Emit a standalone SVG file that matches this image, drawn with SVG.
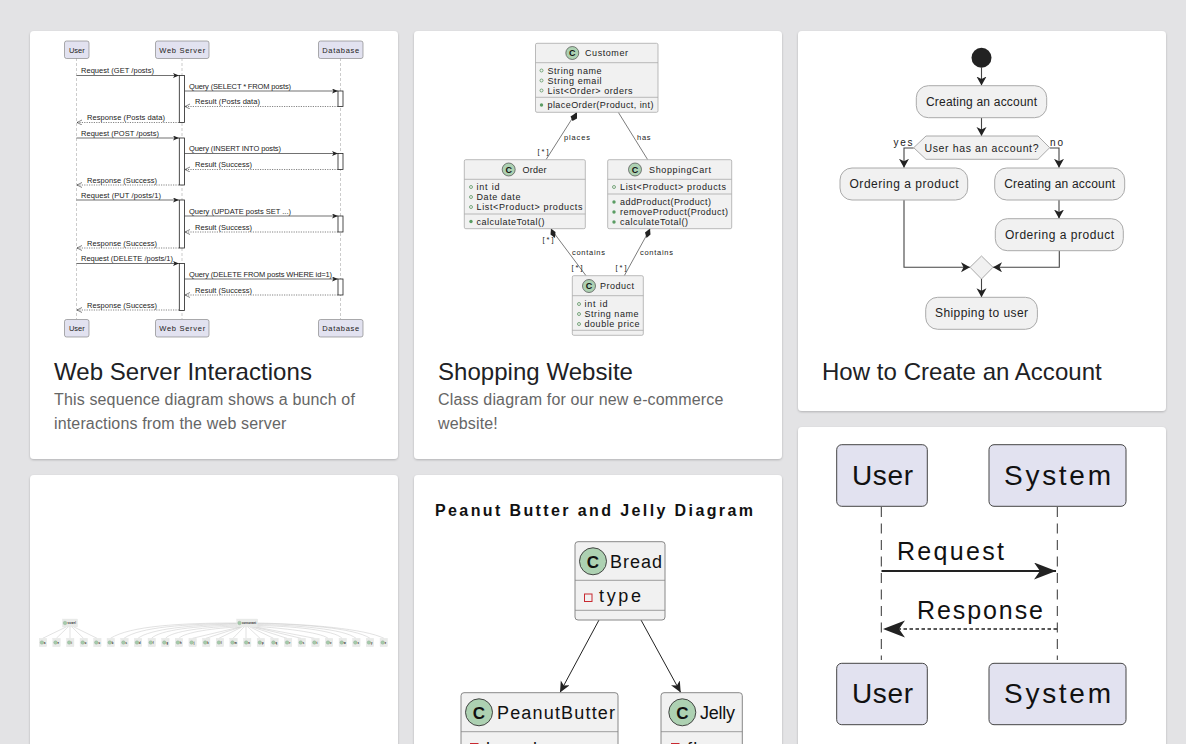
<svg xmlns="http://www.w3.org/2000/svg" width="1186" height="744" viewBox="0 0 1186 744">
<style>
text{font-family:"Liberation Sans",Arial,sans-serif;fill:#111}
.card{fill:#fff;filter:url(#sh)}
.ct{font-size:24px;fill:#202124;letter-spacing:.04px}
.cb{font-size:16px;fill:#666;letter-spacing:.15px}
.part{fill:#e2e2f0;stroke:#777;stroke-width:.6}
.life{stroke:#aaa;stroke-width:.6;stroke-dasharray:3 2;fill:none}
.act{fill:#fff;stroke:#222;stroke-width:.8}
.m{font-size:7.500px;fill:#222}
.sol{stroke:#333;stroke-width:.7;fill:none;marker-end:url(#sa)}
.das{stroke:#333;stroke-width:.6;stroke-dasharray:1.2 1.2;fill:none;marker-end:url(#oa)}
.cls{fill:#f1f1f1;stroke:#aaa;stroke-width:.8}
.sep{stroke:#aaa;stroke-width:.8;fill:none}
.cc{fill:#add1b2;stroke:#333;stroke-width:.6}
.ctext{font-size:9px;font-weight:bold;text-anchor:middle;fill:#111}
.n{font-size:9px;fill:#222}
.r{font-size:9px;fill:#222}
.l{font-size:7.500px;fill:#222}
.pub{fill:none;stroke:#478a4f;stroke-width:.7}
.pubm{fill:#5a9c63}
.edge{stroke:#444;stroke-width:.7;fill:none}
.ab{fill:#f1f1f1;stroke:#aaa;stroke-width:1}
.at{font-size:12px;text-anchor:middle;fill:#222}
.ae{stroke:#444;stroke-width:1.100;fill:none;marker-end:url(#aa)}
.tn{fill:#e9ebe9;stroke:#e2e2e2;stroke-width:.3}
.tc{fill:#a6cbac;stroke:#7a9a7f;stroke-width:.3}
.tt{font-size:2.600px;fill:#222;font-weight:bold}
.te{stroke:#cfcfcf;stroke-width:.6;fill:none}
.big{fill:#f1f1f1;stroke:#888;stroke-width:1}
.bs{stroke:#888;stroke-width:.8;fill:none}
.bc{fill:#add1b2;stroke:#333;stroke-width:.9}
.bl{font-size:18px;fill:#111}
.bp{fill:#e2e2f0;stroke:#444;stroke-width:1}
.bt{font-size:28px;fill:#111}
.bm{font-size:25px;fill:#111}
</style>
<defs>
<filter id="sh" x="-5%" y="-5%" width="110%" height="110%"><feDropShadow dx="0" dy="1" stdDeviation="1.2" flood-color="#000" flood-opacity=".22"/></filter>
<marker id="sa" markerUnits="userSpaceOnUse" markerWidth="8" markerHeight="6" refX="6" refY="2.500" orient="auto"><path d="M0 0L6 2.500L0 5L1.500 2.500Z" fill="#222"/></marker>
<marker id="oa" markerUnits="userSpaceOnUse" markerWidth="8" markerHeight="6" refX="5" refY="2.500" orient="auto"><path d="M0 0L5 2.500L0 5" fill="none" stroke="#333" stroke-width=".6"/></marker>
<marker id="aa" markerUnits="userSpaceOnUse" markerWidth="12" markerHeight="12" refX="9" refY="5" orient="auto"><path d="M0 0L9 5L0 10L2.500 5Z" fill="#222"/></marker>
<marker id="pa" markerUnits="userSpaceOnUse" markerWidth="14" markerHeight="12" refX="11" refY="5" orient="auto"><path d="M0 0L11 5L0 10L3 5Z" fill="#222"/></marker>
<marker id="ba" markerUnits="userSpaceOnUse" markerWidth="24" markerHeight="20" refX="22" refY="8.500" orient="auto"><path d="M0 0L22 8.500L0 17L6 8.500Z" fill="#222"/></marker>
</defs>
<rect width="1186" height="744" fill="#e3e3e5"/>
<g id="cards">
<rect class="card" x="30" y="31" width="368" height="428" rx="4"/>
<rect class="card" x="414" y="31" width="368" height="428" rx="4"/>
<rect class="card" x="798" y="31" width="368" height="380" rx="4"/>
<rect class="card" x="798" y="427" width="368" height="340" rx="4"/>
<rect class="card" x="30" y="475" width="368" height="300" rx="4"/>
<rect class="card" x="414" y="475" width="368" height="300" rx="4"/>
<text class="ct" x="54" y="380">Web Server Interactions</text>
<text class="cb" x="54" y="405">This sequence diagram shows a bunch of</text>
<text class="cb" x="54" y="429">interactions from the web server</text>
<text class="ct" x="438" y="380">Shopping Website</text>
<text class="cb" x="438" y="405">Class diagram for our new e-commerce</text>
<text class="cb" x="438" y="429">website!</text>
<text class="ct" x="822" y="380">How to Create an Account</text>
</g>
<g id="seq1-connectors">
<path class="life" d="M76.500 58V319M182 58V319M340.500 58V319"/>
<path class="sol" d="M76.500 75.500H179"/><path class="sol" d="M184.500 91H338"/><path class="das" d="M338 106.500H185"/><path class="das" d="M179 122.500H77"/>
<path class="sol" d="M76.500 138H179"/><path class="sol" d="M184.500 153.500H338"/><path class="das" d="M338 169.500H185"/><path class="das" d="M179 185H77"/>
<path class="sol" d="M76.500 200H179"/><path class="sol" d="M184.500 216H338"/><path class="das" d="M338 232H185"/><path class="das" d="M179 248H77"/>
<path class="sol" d="M76.500 263.500H179"/><path class="sol" d="M184.500 279H338"/><path class="das" d="M338 295H185"/><path class="das" d="M179 310H77"/>
</g>
<g id="seq1-nodes">
<g id="s1-user"><rect class="part" x="64.500" y="41" width="24.500" height="17.500" rx="2"/><text class="m" x="76.800" y="52.500" text-anchor="middle">User</text></g>
<g id="s1-web"><rect class="part" x="155.500" y="41" width="53.500" height="17.500" rx="2"/><text class="m" x="182.200" y="52.500" text-anchor="middle" textLength="46">Web Server</text></g>
<g id="s1-db"><rect class="part" x="318.500" y="41" width="44.500" height="17.500" rx="2"/><text class="m" x="340.700" y="52.500" text-anchor="middle" textLength="37">Database</text></g>
<g id="s1-user-b"><rect class="part" x="64.500" y="319.500" width="24.500" height="17.500" rx="2"/><text class="m" x="76.800" y="331" text-anchor="middle">User</text></g>
<g id="s1-web-b"><rect class="part" x="155.500" y="319.500" width="53.500" height="17.500" rx="2"/><text class="m" x="182.200" y="331" text-anchor="middle" textLength="46">Web Server</text></g>
<g id="s1-db-b"><rect class="part" x="318.500" y="319.500" width="44.500" height="17.500" rx="2"/><text class="m" x="340.700" y="331" text-anchor="middle" textLength="37">Database</text></g>
<rect class="act" x="179.300" y="75.500" width="5.200" height="47"/><rect class="act" x="338" y="91" width="5" height="15.500"/>
<rect class="act" x="179.300" y="138" width="5.200" height="47"/><rect class="act" x="338" y="153.500" width="5" height="16"/>
<rect class="act" x="179.300" y="200" width="5.200" height="48"/><rect class="act" x="338" y="216" width="5" height="16"/>
<rect class="act" x="179.300" y="263.500" width="5.200" height="47"/><rect class="act" x="338" y="279" width="5" height="16"/>
<text class="m" x="81" y="73" textLength="73">Request (GET /posts)</text>
<text class="m" x="189" y="88.500" textLength="102">Query (SELECT * FROM posts)</text>
<text class="m" x="195" y="104" textLength="65">Result (Posts data)</text>
<text class="m" x="87" y="120" textLength="78">Response (Posts data)</text>
<text class="m" x="81" y="135.500" textLength="78">Request (POST /posts)</text>
<text class="m" x="189" y="151" textLength="92">Query (INSERT INTO posts)</text>
<text class="m" x="195" y="167" textLength="57">Result (Success)</text>
<text class="m" x="87" y="182.500" textLength="70">Response (Success)</text>
<text class="m" x="81" y="197.500" textLength="80">Request (PUT /posts/1)</text>
<text class="m" x="189" y="213.500" textLength="102">Query (UPDATE posts SET ...)</text>
<text class="m" x="195" y="229.500" textLength="57">Result (Success)</text>
<text class="m" x="87" y="245.500" textLength="70">Response (Success)</text>
<text class="m" x="81" y="261" textLength="92">Request (DELETE /posts/1)</text>
<text class="m" x="189" y="276.500" textLength="143">Query (DELETE FROM posts WHERE id=1)</text>
<text class="m" x="195" y="292.500" textLength="57">Result (Success)</text>
<text class="m" x="87" y="308" textLength="70">Response (Success)</text>
</g>
<g id="class-connectors">
<path class="edge" d="M576 112.500L546 159.700M618.300 112.300L647.700 159.700M551 229L586 275.700M650 229L624.300 275.700"/>
<path d="M577 112.300L577 118.500L572.500 121L570.500 116.500Z" fill="#222"/>
<path d="M551 228.500L555.500 232L555 238L550.500 234.500Z" fill="#222"/>
<path d="M650 228.500L650.500 234.500L646.500 238L645 232.500Z" fill="#222"/>
<text class="l" x="564" y="140" textLength="26">places</text>
<text class="l" x="637" y="140" textLength="13.500">has</text>
<text class="l" x="537.500" y="154" textLength="11">[*]</text>
<text class="l" x="542.500" y="241.500" textLength="11">[*]</text>
<text class="l" x="572" y="255" textLength="33">contains</text>
<text class="l" x="571.500" y="269.500" textLength="11">[*]</text>
<text class="l" x="640" y="255" textLength="33">contains</text>
<text class="l" x="615.500" y="269.500" textLength="11">[*]</text>
</g>
<g id="customer"><rect class="cls" x="535.500" y="43.300" width="122.500" height="69" rx="1.500"/><path class="sep" d="M535.500 62.700H658M535.500 97.300H658"/><circle class="cc" cx="572.300" cy="53" r="6.500"/><text class="ctext" x="572.300" y="56.200">C</text><text class="n" x="585" y="56" textLength="43">Customer</text>
<circle class="pub" cx="541.500" cy="70.500" r="1.500"/><text class="r" x="547.500" y="73.500" textLength="54">String name</text>
<circle class="pub" cx="541.500" cy="80.500" r="1.500"/><text class="r" x="547.500" y="83.500" textLength="54">String email</text>
<circle class="pub" cx="541.500" cy="90.500" r="1.500"/><text class="r" x="547.500" y="93.500" textLength="85">List&lt;Order&gt; orders</text>
<circle class="pubm" cx="541.500" cy="105" r="1.700"/><text class="r" x="547.500" y="108" textLength="106">placeOrder(Product, int)</text></g>
<g id="order"><rect class="cls" x="464.300" y="159.700" width="121" height="69" rx="1.500"/><path class="sep" d="M464.300 179.300H585.300M464.300 214H585.300"/><circle class="cc" cx="508.700" cy="169.500" r="6.500"/><text class="ctext" x="508.700" y="172.700">C</text><text class="n" x="522.500" y="172.500" textLength="24">Order</text>
<circle class="pub" cx="471" cy="187" r="1.500"/><text class="r" x="476.500" y="190" textLength="23">int id</text>
<circle class="pub" cx="471" cy="197" r="1.500"/><text class="r" x="476.500" y="200" textLength="44">Date date</text>
<circle class="pub" cx="471" cy="207" r="1.500"/><text class="r" x="476.500" y="210" textLength="106">List&lt;Product&gt; products</text>
<circle class="pubm" cx="471" cy="221.500" r="1.700"/><text class="r" x="476.500" y="224.500" textLength="68">calculateTotal()</text></g>
<g id="cart"><rect class="cls" x="607.700" y="159.700" width="124" height="69" rx="1.500"/><path class="sep" d="M607.700 179.300H731.700M607.700 194H731.700"/><circle class="cc" cx="635" cy="169.500" r="6.500"/><text class="ctext" x="635" y="172.700">C</text><text class="n" x="649" y="172.500" textLength="62">ShoppingCart</text>
<circle class="pub" cx="614" cy="187" r="1.500"/><text class="r" x="620" y="190" textLength="106">List&lt;Product&gt; products</text>
<circle class="pubm" cx="614" cy="202" r="1.700"/><text class="r" x="620" y="205" textLength="91">addProduct(Product)</text>
<circle class="pubm" cx="614" cy="212" r="1.700"/><text class="r" x="620" y="215" textLength="108">removeProduct(Product)</text>
<circle class="pubm" cx="614" cy="222" r="1.700"/><text class="r" x="620" y="225" textLength="68">calculateTotal()</text></g>
<g id="product"><rect class="cls" x="572.300" y="275.700" width="71" height="59.600" rx="1.500"/><path class="sep" d="M572.300 295.700H643.300M572.300 330.300H643.300"/><circle class="cc" cx="589" cy="286" r="6.500"/><text class="ctext" x="589" y="289.200">C</text><text class="n" x="600" y="289" textLength="34">Product</text>
<circle class="pub" cx="579" cy="304" r="1.500"/><text class="r" x="584.500" y="307" textLength="23">int id</text>
<circle class="pub" cx="579" cy="314" r="1.500"/><text class="r" x="584.500" y="317" textLength="54">String name</text>
<circle class="pub" cx="579" cy="324" r="1.500"/><text class="r" x="584.500" y="327" textLength="55">double price</text></g>
<g id="activity-connectors">
<path class="ae" d="M981.500 67.500V85.500"/><path class="ae" d="M981.500 117.700V136"/>
<path class="ae" d="M913.700 148H904V167.800"/><path class="ae" d="M1049.700 148H1059V167.800"/>
<path class="ae" d="M1059 200V218.500"/>
<path class="ae" d="M904 200V267.300H970"/><path class="ae" d="M1059.300 250.700V267.300H993"/><path class="ae" d="M981.500 279V297.200"/>
<text class="l" style="font-size:10px" x="893.500" y="145.500" textLength="19">yes</text>
<text class="l" style="font-size:10px" x="1050" y="145.500" textLength="13">no</text>
</g>
<g id="start"><circle cx="981.500" cy="57.700" r="10" fill="#222"/></g>
<g id="a-create"><rect class="ab" x="916.300" y="85.700" width="130.400" height="32" rx="12"/><text class="at" x="981.500" y="105.500" textLength="111">Creating an account</text></g>
<g id="a-dec"><path class="ab" d="M926 136H1038L1049.700 147.700L1038 159.300H926L913.700 147.700Z"/><text class="at" style="font-size:10.500px" x="981.500" y="151.500" textLength="114">User has an account?</text></g>
<g id="a-order"><rect class="ab" x="840" y="168" width="127.700" height="32" rx="12"/><text class="at" x="904" y="188" textLength="109">Ordering a product</text></g>
<g id="a-create2"><rect class="ab" x="994.700" y="168" width="130" height="32" rx="12"/><text class="at" x="1059.700" y="188" textLength="111">Creating an account</text></g>
<g id="a-order2"><rect class="ab" x="995.300" y="218.700" width="128" height="32" rx="12"/><text class="at" x="1059.500" y="238.500" textLength="109">Ordering a product</text></g>
<g id="a-merge"><path class="ab" d="M981.500 256L993 267.300L981.500 279L970 267.300Z"/></g>
<g id="a-ship"><rect class="ab" x="925.700" y="297.300" width="111.700" height="32" rx="12"/><text class="at" x="981.500" y="317" textLength="93">Shipping to user</text></g>
<g id="tree-connectors">
<path class="te" d="M66 627L42.700 638.300M68 627L56.300 638.300M70 627V638.300M72 627L83.500 638.300M74 627L97 638.300"/>
<path class="te" d="M237 623C180 623 130 626 110.500 638.300M237 623.500C185 624 140 627 124 638.300M237 624C190 625 150 629 138 638.300M237 625C195 626 160 630 151.500 638.300M238 626C205 627 172 631 165.500 638.300M239 627C215 628 185 632 179 638.300M240 627L192.500 638.300M241 627L206 638.300M242 627L219 638.300M244 627L233 638.300M246 627V638.300M248 627L260 638.300M250 627L273.500 638.300M252 627L287 638.300M254 627L301 638.300M256 627L314.500 638.300M257 626.500C280 628 320 632 328 638.300M257 625.500C290 626 335 630 342 638.300M257 624.500C295 625 345 629 356 638.300M257 623.500C300 624 355 628 370 638.300M257 623C310 624 365 629 384 638.300"/>
</g>
<g id="tree-nodes">
<g id="t-r1"><rect class="tn" x="62.500" y="619" width="15" height="8"/><circle class="tc" cx="65" cy="623" r="1.800"/><text class="tt" x="67.500" y="624" textLength="8.500">vowel</text></g>
<g id="t-r2"><rect class="tn" x="236.700" y="619" width="21" height="8"/><circle class="tc" cx="239.500" cy="623" r="1.800"/><text class="tt" x="242" y="624" textLength="14">consonant</text></g>
<g id="t0"><rect class="tn" x="39.200" y="638.300" width="7.500" height="8.400"/><circle class="tc" cx="41.900" cy="642.500" r="1.800"/><text class="tt" x="44" y="643.500">a</text></g>
<g id="t1"><rect class="tn" x="52.800" y="638.300" width="7.500" height="8.400"/><circle class="tc" cx="55.500" cy="642.500" r="1.800"/><text class="tt" x="57.600" y="643.500">e</text></g>
<g id="t2"><rect class="tn" x="66.500" y="638.300" width="7.500" height="8.400"/><circle class="tc" cx="69.200" cy="642.500" r="1.800"/><text class="tt" x="71.300" y="643.500">i</text></g>
<g id="t3"><rect class="tn" x="80" y="638.300" width="7.500" height="8.400"/><circle class="tc" cx="82.700" cy="642.500" r="1.800"/><text class="tt" x="84.800" y="643.500">o</text></g>
<g id="t4"><rect class="tn" x="93.600" y="638.300" width="7.500" height="8.400"/><circle class="tc" cx="96.300" cy="642.500" r="1.800"/><text class="tt" x="98.400" y="643.500">u</text></g>
<g id="t5"><rect class="tn" x="107" y="638.300" width="7.500" height="8.400"/><circle class="tc" cx="109.700" cy="642.500" r="1.800"/><text class="tt" x="111.800" y="643.500">b</text></g>
<g id="t6"><rect class="tn" x="120.700" y="638.300" width="7.500" height="8.400"/><circle class="tc" cx="123.400" cy="642.500" r="1.800"/><text class="tt" x="125.500" y="643.500">c</text></g>
<g id="t7"><rect class="tn" x="134.300" y="638.300" width="7.500" height="8.400"/><circle class="tc" cx="137" cy="642.500" r="1.800"/><text class="tt" x="139.100" y="643.500">d</text></g>
<g id="t8"><rect class="tn" x="148" y="638.300" width="7.500" height="8.400"/><circle class="tc" cx="150.700" cy="642.500" r="1.800"/><text class="tt" x="152.800" y="643.500">f</text></g>
<g id="t9"><rect class="tn" x="161.600" y="638.300" width="7.500" height="8.400"/><circle class="tc" cx="164.300" cy="642.500" r="1.800"/><text class="tt" x="166.400" y="643.500">g</text></g>
<g id="t10"><rect class="tn" x="175.200" y="638.300" width="7.500" height="8.400"/><circle class="tc" cx="177.900" cy="642.500" r="1.800"/><text class="tt" x="180" y="643.500">h</text></g>
<g id="t11"><rect class="tn" x="188.900" y="638.300" width="7.500" height="8.400"/><circle class="tc" cx="191.600" cy="642.500" r="1.800"/><text class="tt" x="193.700" y="643.500">j</text></g>
<g id="t12"><rect class="tn" x="202.500" y="638.300" width="7.500" height="8.400"/><circle class="tc" cx="205.200" cy="642.500" r="1.800"/><text class="tt" x="207.300" y="643.500">k</text></g>
<g id="t13"><rect class="tn" x="216.200" y="638.300" width="7.500" height="8.400"/><circle class="tc" cx="218.900" cy="642.500" r="1.800"/><text class="tt" x="221" y="643.500">l</text></g>
<g id="t14"><rect class="tn" x="229.800" y="638.300" width="7.500" height="8.400"/><circle class="tc" cx="232.500" cy="642.500" r="1.800"/><text class="tt" x="234.600" y="643.500">m</text></g>
<g id="t15"><rect class="tn" x="243.500" y="638.300" width="7.500" height="8.400"/><circle class="tc" cx="246.200" cy="642.500" r="1.800"/><text class="tt" x="248.300" y="643.500">n</text></g>
<g id="t16"><rect class="tn" x="257.100" y="638.300" width="7.500" height="8.400"/><circle class="tc" cx="259.800" cy="642.500" r="1.800"/><text class="tt" x="261.900" y="643.500">p</text></g>
<g id="t17"><rect class="tn" x="270.700" y="638.300" width="7.500" height="8.400"/><circle class="tc" cx="273.400" cy="642.500" r="1.800"/><text class="tt" x="275.500" y="643.500">q</text></g>
<g id="t18"><rect class="tn" x="284.400" y="638.300" width="7.500" height="8.400"/><circle class="tc" cx="287.100" cy="642.500" r="1.800"/><text class="tt" x="289.200" y="643.500">r</text></g>
<g id="t19"><rect class="tn" x="298" y="638.300" width="7.500" height="8.400"/><circle class="tc" cx="300.700" cy="642.500" r="1.800"/><text class="tt" x="302.800" y="643.500">s</text></g>
<g id="t20"><rect class="tn" x="311.700" y="638.300" width="7.500" height="8.400"/><circle class="tc" cx="314.400" cy="642.500" r="1.800"/><text class="tt" x="316.500" y="643.500">t</text></g>
<g id="t21"><rect class="tn" x="325.300" y="638.300" width="7.500" height="8.400"/><circle class="tc" cx="328" cy="642.500" r="1.800"/><text class="tt" x="330.100" y="643.500">v</text></g>
<g id="t22"><rect class="tn" x="339" y="638.300" width="7.500" height="8.400"/><circle class="tc" cx="341.700" cy="642.500" r="1.800"/><text class="tt" x="343.800" y="643.500">w</text></g>
<g id="t23"><rect class="tn" x="352.600" y="638.300" width="7.500" height="8.400"/><circle class="tc" cx="355.300" cy="642.500" r="1.800"/><text class="tt" x="357.400" y="643.500">x</text></g>
<g id="t24"><rect class="tn" x="366.200" y="638.300" width="7.500" height="8.400"/><circle class="tc" cx="368.900" cy="642.500" r="1.800"/><text class="tt" x="371" y="643.500">y</text></g>
<g id="t25"><rect class="tn" x="380" y="638.300" width="7.500" height="8.400"/><circle class="tc" cx="382.700" cy="642.500" r="1.800"/><text class="tt" x="384.800" y="643.500">z</text></g>
</g>
<text x="594" y="516" text-anchor="middle" font-weight="bold" style="font-size:16px" textLength="318">Peanut Butter and Jelly Diagram</text>
<g id="pb-connectors">
<path d="M599 620L560 692.500" stroke="#222" stroke-width="1" fill="none" marker-end="url(#pa)"/>
<path d="M641 620L680.700 692.500" stroke="#222" stroke-width="1" fill="none" marker-end="url(#pa)"/>
</g>
<g id="bread"><rect class="big" x="575" y="541.700" width="90" height="78.300" rx="3"/><path class="bs" d="M575 580.300H665M575 610.300H665"/><circle class="bc" cx="593" cy="561.300" r="13.500"/><text x="593" y="567.500" text-anchor="middle" font-weight="bold" style="font-size:17px">C</text><text class="bl" x="610" y="568" textLength="52">Bread</text><rect x="584.500" y="594" width="7.500" height="7.500" fill="none" stroke="#c82930" stroke-width="1"/><text class="bl" x="599" y="602" textLength="42">type</text></g>
<g id="pb"><path class="big" d="M461 760V695.700a3 3 0 0 1 3-3H615a3 3 0 0 1 3 3V760Z"/><path class="bs" d="M461 731.700H618"/><circle class="bc" cx="479" cy="712.300" r="13.500"/><text x="479" y="718.500" text-anchor="middle" font-weight="bold" style="font-size:17px">C</text><text class="bl" x="497" y="719" textLength="118">PeanutButter</text><rect x="470.500" y="743.500" width="7.500" height="7.500" fill="none" stroke="#c82930" stroke-width="1"/><text class="bl" x="486" y="754.500" textLength="51">brand</text></g>
<g id="jelly"><path class="big" d="M661 760V695.700a3 3 0 0 1 3-3H739.300a3 3 0 0 1 3 3V760Z"/><path class="bs" d="M661 731.700H742.300"/><circle class="bc" cx="682.300" cy="712.300" r="13.500"/><text x="682.300" y="718.500" text-anchor="middle" font-weight="bold" style="font-size:17px">C</text><text class="bl" x="700" y="719" textLength="35">Jelly</text><rect x="671.500" y="743.500" width="7.500" height="7.500" fill="none" stroke="#c82930" stroke-width="1"/><text class="bl" x="687" y="754.500" textLength="50">flavor</text></g>
<g id="seq2-connectors">
<path d="M881.300 507V660M1057.300 507V660" stroke="#333" stroke-width="1" stroke-dasharray="10 6.500" fill="none"/>
<path d="M881.500 571H1056" stroke="#222" stroke-width="2" fill="none" marker-end="url(#ba)"/>
<path d="M1057 629H883" stroke="#222" stroke-width="1.600" stroke-dasharray="3.500 2.500" fill="none" marker-end="url(#ba)"/>
<text class="bm" x="897" y="560" textLength="107">Request</text>
<text class="bm" x="917" y="619" textLength="126">Response</text>
</g>
<g id="s2-user"><rect class="bp" x="836.700" y="444.700" width="90.600" height="61.600" rx="5"/><text class="bt" x="852" y="485" textLength="61">User</text></g>
<g id="s2-system"><rect class="bp" x="989" y="444.700" width="137" height="61.600" rx="5"/><text class="bt" x="1004" y="485" textLength="107">System</text></g>
<g id="s2-user-b"><rect class="bp" x="836.700" y="663.300" width="90.600" height="61.400" rx="5"/><text class="bt" x="852" y="703" textLength="61">User</text></g>
<g id="s2-system-b"><rect class="bp" x="989" y="663.300" width="137" height="61.400" rx="5"/><text class="bt" x="1004" y="703" textLength="107">System</text></g>
</svg>
